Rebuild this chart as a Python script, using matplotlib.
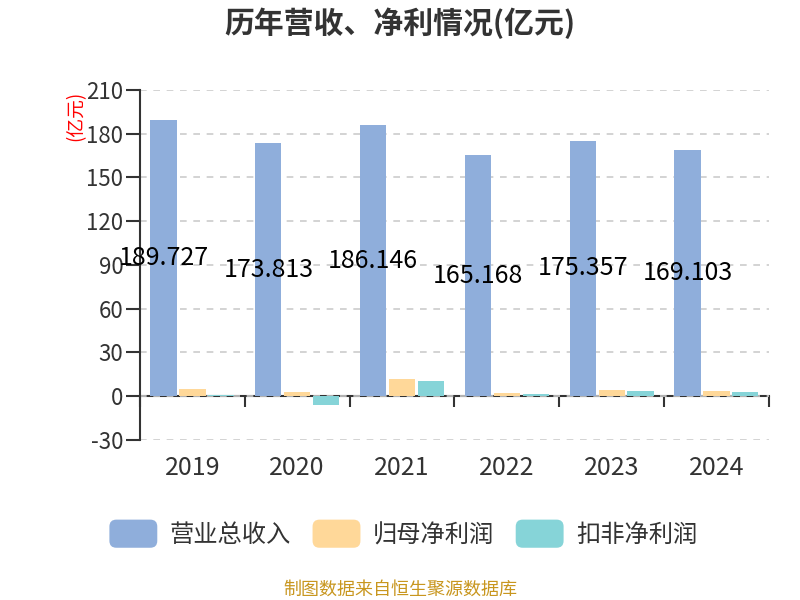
import numpy as np
import matplotlib
matplotlib.use("Agg")
import matplotlib.pyplot as plt
from matplotlib.patches import FancyBboxPatch, Patch
from matplotlib.legend_handler import HandlerPatch

plt.rcParams['font.family'] = ['Noto Sans CJK SC', 'DejaVu Sans']
plt.rcParams['axes.unicode_minus'] = False

# Data (亿元)
years = ["2019", "2020", "2021", "2022", "2023", "2024"]
revenue = [189.727, 173.813, 186.146, 165.168, 175.357, 169.103]
net_profit = [4.8, 2.9, 11.7, 1.9, 4.1, 3.6]
deducted_profit = [0.6, -5.7, 10.3, 1.4, 3.9, 3.0]

names = ["营业总收入", "归母净利润", "扣非净利润"]
colors = ["#8FAEDB", "#FFD899", "#86D4D8"]
text_color = "#333333"


class RoundHandler(HandlerPatch):
    def create_artists(self, legend, orig_handle, xdescent, ydescent,
                       width, height, fontsize, trans):
        p = FancyBboxPatch((-xdescent, -ydescent - 4), width, height + 8,
                           boxstyle="round,pad=0,rounding_size=5",
                           facecolor=orig_handle.get_facecolor(),
                           edgecolor="none", transform=trans)
        return [p]


fig = plt.figure(figsize=(8, 6), dpi=100)
ax = fig.add_axes([0.175, 0.2667, 0.786, 0.5833])

x = np.arange(len(years))
w = 0.25
off = 0.275
ax.bar(x - off, revenue, w, color=colors[0], zorder=3)
ax.bar(x, net_profit, w, color=colors[1], zorder=3)
ax.bar(x + off, deducted_profit, w, color=colors[2], zorder=3)

for xi, v in zip(x, revenue):
    ax.text(xi - off, v / 2, f"{v:.3f}", ha="center", va="center",
            fontsize=18, color="black", zorder=5)

ax.set_xlim(-0.5, len(years) - 0.5)
ax.set_ylim(-30, 210)
ax.set_yticks(np.arange(-30, 211, 30))
ax.yaxis.grid(True, linestyle=(0, (4, 4)), color="#cccccc", linewidth=1.2, zorder=0)

for s in ["top", "right", "bottom"]:
    ax.spines[s].set_visible(False)
ax.spines["left"].set_color(text_color)
ax.spines["left"].set_linewidth(1.5)
ax.tick_params(axis="y", length=10, width=1.5, color=text_color,
               labelsize=16, labelcolor=text_color, pad=2)

# year labels at the bottom
ax.set_xticks(x)
ax.set_xticklabels(years)
ax.tick_params(axis="x", length=0, labelsize=18, labelcolor=text_color, pad=11)

# category axis drawn along y = 0
zero = ax.secondary_xaxis((0 - (-30)) / 240)
zero.set_xticks(np.arange(-0.5, len(years), 1.0))
zero.set_xticklabels([])
zero.spines["bottom"].set_color(text_color)
zero.spines["bottom"].set_linewidth(1.5)
zero.tick_params(axis="x", length=8, width=1.5, color=text_color, direction="out")

fig.text(0.5, 0.962, "历年营收、净利情况(亿元)", ha="center", va="center",
         fontsize=21.5, fontweight="bold", color=text_color)
fig.text(0.095, 0.807, "(亿元)", rotation=90, ha="center", va="center",
         fontsize=13.5, color="red")

handles = [Patch(facecolor=c, label=n) for c, n in zip(colors, names)]
fig.legend(handles=handles, loc="center", bbox_to_anchor=(0.504, 0.108),
           ncol=3, frameon=False, fontsize=17.5, labelcolor=text_color,
           handlelength=1.97, handleheight=0.7, handletextpad=0.5, columnspacing=0.9,
           handler_map={Patch: RoundHandler()})

fig.text(0.5, 0.018, "制图数据来自恒生聚源数据库", ha="center", va="center",
         fontsize=13, color="#C8961E")

fig.savefig("out.png", dpi=100)
